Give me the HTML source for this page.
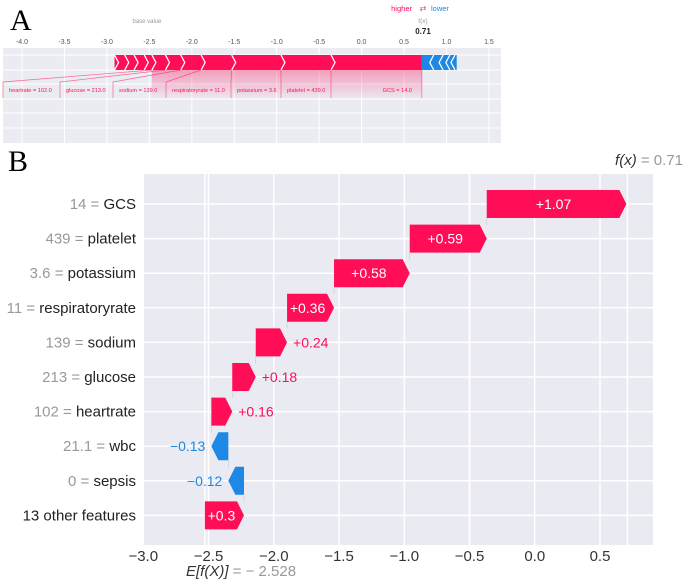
<!DOCTYPE html>
<html><head><meta charset="utf-8"><style>
body{margin:0;background:#fff;}
svg{display:block;font-family:"Liberation Sans",sans-serif;}
</style></head><body>
<svg id="chart" width="685" height="581" viewBox="0 0 685 581" xmlns="http://www.w3.org/2000/svg">
<text x="10" y="30" font-family="Liberation Serif,serif" font-size="30">A</text>
<g id="forceA"></g>
<text x="8" y="171" font-family="Liberation Serif,serif" font-size="30">B</text>
<g id="waterB"></g>
</svg>
<script>
// ---- Panel B data ----
const features = ["GCS","platelet","potassium","respiratoryrate","sodium","glucose","heartrate","wbc","sepsis","13 other features"];
const featureValues = ["14","439","3.6","11","139","213","102","21.1","0",""];
const shapValues = [1.07,0.59,0.58,0.36,0.24,0.18,0.16,-0.13,-0.12,0.3];
const valueLabels = ["+1.07","+0.59","+0.58","+0.36","+0.24","+0.18","+0.16","\u22120.13","\u22120.12","+0.3"];
const baseValue = -2.528;
const fxValue = 0.71;
const xTicks = [-3.0,-2.5,-2.0,-1.5,-1.0,-0.5,0.0,0.5];
// ---- Panel A data ----
const forceTicks = [-4.0,-3.5,-3.0,-2.5,-2.0,-1.5,-1.0,-0.5,0.0,0.5,1.0,1.5];
const forceLabels = ["heartrate = 102.0","glucose = 213.0","sodium = 139.0","respiratoryrate = 11.0","potassium = 3.6","platelet = 439.0","GCS = 14.0"];
const forceShap = [0.16,0.18,0.24,0.36,0.58,0.59,1.07];
const forceSmallPos = [0.09,0.12,0.11,0.12];
const forceNeg = [-0.14,-0.11,-0.08,-0.06,-0.02];

const NS="http://www.w3.org/2000/svg";
function mk(parent,tag,attrs,text){const e=document.createElementNS(NS,tag);for(const k in attrs)e.setAttribute(k,attrs[k]);if(text!==undefined)e.textContent=text;parent.appendChild(e);return e;}
const RED="#ff0d57", BLUE="#1e88e5";

// ===== Panel B =====
(function(){
const g=document.getElementById('waterB');
const L=144,R=653,T=174,B=545;
const xs=v=>600+(v-0.5)*130.5;
const rowY=i=>204+i*34.6;
const bg=mk(g,'rect',{x:L,y:T,width:R-L,height:B-T,fill:'#eaeaf2'});

xTicks.forEach(t=>{
 const l=mk(g,'line',{x1:xs(t),x2:xs(t),y1:T,y2:B,stroke:'#fff','stroke-width':1.5});
 
 const tx=mk(g,'text',{x:xs(t),y:561,'font-size':15,fill:'#333','text-anchor':'middle'},(t<0?'\u2212':'')+Math.abs(t).toFixed(1));
 
});
[baseValue,fxValue].forEach(v=>{const l=mk(g,'line',{x1:xs(v),x2:xs(v),y1:T,y2:B,stroke:'#fff','stroke-width':1.5});
 });
features.forEach((f,i)=>{const l=mk(g,'line',{x1:L,x2:R,y1:rowY(i),y2:rowY(i),stroke:'#fff','stroke-width':1.5});
 });
let cur=baseValue;const starts=[],ends=[];
for(let i=features.length-1;i>=0;i--){starts[i]=cur;cur+=shapValues[i];ends[i]=cur;}
features.forEach((f,i)=>{
 const y=rowY(i),h=28,s=shapValues[i];
 const x0=xs(starts[i]),x1=xs(ends[i]);
 const w=Math.abs(x1-x0),hd=Math.min(7,w);
 let pts;
 if(s>0)pts=[[x0,y-h/2],[x1-hd,y-h/2],[x1,y],[x1-hd,y+h/2],[x0,y+h/2]];
 else pts=[[x0,y-h/2],[x1+hd,y-h/2],[x1,y],[x1+hd,y+h/2],[x0,y+h/2]];
 const p=mk(g,'polygon',{points:pts.map(a=>a.join(',')).join(' '),fill:s>0?RED:BLUE});
 
 if(i>0){const c=mk(g,'line',{x1:x1,x2:x1,y1:y-h/2,y2:rowY(i-1)+h/2,stroke:'#aaa','stroke-width':0.6,'stroke-dasharray':'1,1'});
  }
 const inside=w>36;let t;
 if(inside)t=mk(g,'text',{x:(x0+x1)/2-(s>0?3:-3),y:y+5,'font-size':14,fill:'#fff','text-anchor':'middle'},valueLabels[i]);
 else if(s>0)t=mk(g,'text',{x:x1+6,y:y+5,'font-size':14,fill:RED},valueLabels[i]);
 else t=mk(g,'text',{x:x1-6,y:y+5,'font-size':14,fill:BLUE,'text-anchor':'end'},valueLabels[i]);
 
 const yl=mk(g,'text',{x:136,y:y+5,'font-size':15,'text-anchor':'end',fill:'#222'});
 
 if(featureValues[i]!==''){mk(yl,'tspan',{fill:'#999'},featureValues[i]+' = ');}
 mk(yl,'tspan',{},f);
});
const e=mk(g,'text',{x:186,y:576,'font-size':15,fill:'#999'});

mk(e,'tspan',{fill:'#333','font-style':'italic'},'E[f(X)]');mk(e,'tspan',{},' = \u2212 2.528');
const f=mk(g,'text',{x:683,y:165,'font-size':15,fill:'#999','text-anchor':'end'});

mk(f,'tspan',{fill:'#333','font-style':'italic'},'f(x)');mk(f,'tspan',{},' = 0.71');
})();

// ===== Panel A =====
(function(){
const g=document.getElementById('forceA');
const xa=v=>22+(v+4)*84.9;
const bg=mk(g,'rect',{x:3,y:48,width:498,height:95,fill:'#ebebf2'});

[55,70,84,99,113,128].forEach(y=>{const l=mk(g,'line',{x1:3,x2:501,y1:y,y2:y,stroke:'#fff','stroke-width':1});
 });
forceTicks.forEach(t=>{
 const l=mk(g,'line',{x1:xa(t),x2:xa(t),y1:48,y2:143,stroke:'#fff','stroke-width':1});
 
 const tx=mk(g,'text',{x:xa(t),y:44,'font-size':7,fill:'#555','text-anchor':'middle'},(t<0?'-':'')+Math.abs(t).toFixed(1));
 
});
let cur=fxValue;const bounds=[];
for(let i=forceShap.length-1;i>=0;i--){bounds[i]=[cur-forceShap[i],cur];cur-=forceShap[i];}
const smallB=[];forceSmallPos.forEach(v=>{cur-=v;smallB.push(cur);});
const left=cur;
const defs=mk(g,'defs',{});const lg=mk(defs,'linearGradient',{id:'pg',x1:0,y1:0,x2:0,y2:1});
mk(lg,'stop',{offset:0,'stop-color':RED,'stop-opacity':0.35});mk(lg,'stop',{offset:1,'stop-color':RED,'stop-opacity':0.02});
const fade=mk(g,'rect',{x:xa(bounds[0][0]),y:70,width:xa(fxValue)-xa(bounds[0][0]),height:28,fill:'url(#pg)'});

const rb=mk(g,'rect',{x:xa(left),y:55,width:xa(fxValue)-xa(left),height:15,fill:RED});

let nc=fxValue;const nb=[];forceNeg.forEach(v=>{nc-=v;nb.push(nc);});
const bb=mk(g,'rect',{x:xa(fxValue),y:55,width:xa(nc)-xa(fxValue),height:15,fill:BLUE});

const chev=(x,dir,nm)=>{const p=mk(g,'polyline',{points:`${x},55 ${x+4*dir},62.5 ${x},70`,fill:'none',stroke:'#fff','stroke-width':1.3});
 };
smallB.concat(bounds.map(b=>b[0])).forEach(v=>chev(xa(v),1,'positive-chevron'));
nb.slice(0,-1).forEach(v=>chev(xa(v),-1,'negative-chevron'));
const labX=[3,60,113,166,231,281,331];
forceLabels.forEach((lab,i)=>{
 const bx=xa(bounds[i][0]);
 const c=mk(g,'path',{d:`M${bx},70 L${labX[i]},82 L${labX[i]},98`,stroke:RED,'stroke-opacity':0.6,fill:'none','stroke-width':0.7});
 
 const last=i===forceLabels.length-1;
 const t=mk(g,'text',{x:last?412:labX[i]+6,y:92,'font-size':5.6,fill:RED,'text-anchor':last?'end':'start'},lab);
 
});
const er=mk(g,'line',{x1:xa(fxValue),x2:xa(fxValue),y1:70,y2:98,stroke:RED,'stroke-opacity':0.6,'stroke-width':0.7});

const bv=mk(g,'text',{x:147,y:23,'font-size':6,fill:'#999','text-anchor':'middle'},'base value');

const hi=mk(g,'text',{x:412,y:11,'font-size':7.5,fill:RED,'text-anchor':'end'},'higher');

const ar=mk(g,'text',{x:423,y:11,'font-size':8,fill:'#c55','text-anchor':'middle'},'\u21c4');

const lo=mk(g,'text',{x:431,y:11,'font-size':7.5,fill:BLUE},'lower');

const fx=mk(g,'text',{x:423,y:23,'font-size':6.5,fill:'#999','text-anchor':'middle'},'f(x)');

const fv=mk(g,'text',{x:423,y:34,'font-size':8,fill:'#222','font-weight':'bold','text-anchor':'middle'},'0.71');

})();
</script>
</body></html>
